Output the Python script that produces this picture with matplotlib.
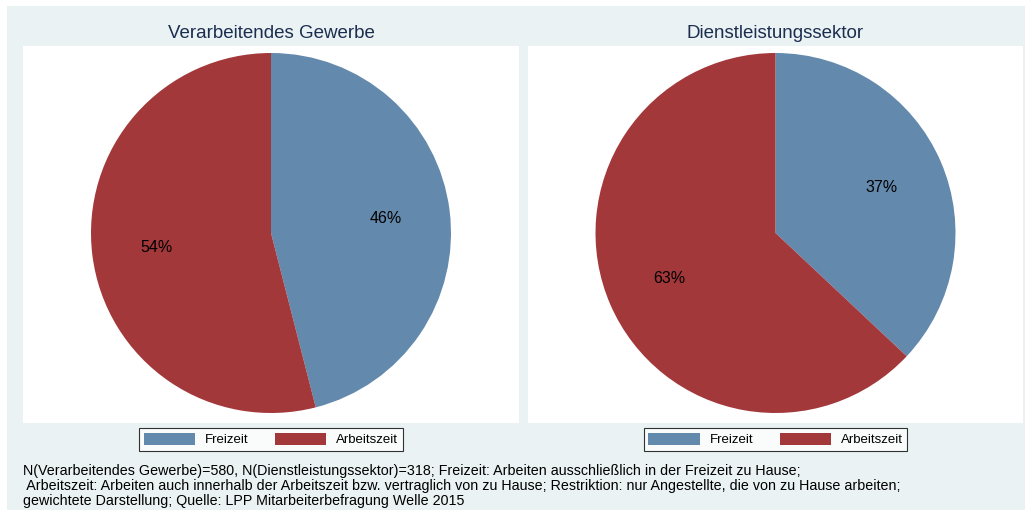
import matplotlib

matplotlib.use("Agg")
import matplotlib.pyplot as plt

plt.rcParams["font.family"] = ["Liberation Sans", "DejaVu Sans"]

# Daten
sektoren = ["Verarbeitendes Gewerbe", "Dienstleistungssektor"]
kategorien = ["Freizeit", "Arbeitszeit"]
anteile = [[46, 54], [37, 63]]
farben = ["#6389AD", "#A3383B"]
fussnote = [
    "N(Verarbeitendes Gewerbe)=580, N(Dienstleistungssektor)=318; Freizeit: Arbeiten ausschließlich in der Freizeit zu Hause;",
    " Arbeitszeit: Arbeiten auch innerhalb der Arbeitszeit bzw. vertraglich von zu Hause; Restriktion: nur Angestellte, die von zu Hause arbeiten;",
    "gewichtete Darstellung; Quelle: LPP Mitarbeiterbefragung Welle 2015",
]

W, H = 1026, 519
fig = plt.figure(figsize=(W / 100, H / 100), dpi=100, facecolor="white")


def px_rect(x0, y0, x1, y1):
    """Pixel (oben-links) -> figure coords [left, bottom, width, height]."""
    return [x0 / W, 1 - y1 / H, (x1 - x0) / W, (y1 - y0) / H]


def leere_achse(rect, farbe):
    a = fig.add_axes(rect)
    a.set_facecolor(farbe)
    a.set_xticks([])
    a.set_yticks([])
    for s in a.spines.values():
        s.set_visible(False)
    return a


# Hintergrund (Stata s2color)
leere_achse(px_rect(7, 6, 1025, 510), "#EAF2F3")

panels = [(23, 519), (528, 1023)]
for i, (x0, x1) in enumerate(panels):
    leere_achse(px_rect(x0, 46, x1, 423), "white")

    cx = (x0 + x1) / 2
    fig.text(cx / W, 1 - 33 / H, sektoren[i], ha="center", va="center",
             fontsize=13.5, color="#1C2E50")

    r = 180
    ax = fig.add_axes(px_rect(cx - r, 233 - r, cx + r, 233 + r))
    ax.patch.set_alpha(0)
    wedges, _, autotexts = ax.pie(
        anteile[i], colors=farben, startangle=90, counterclock=False,
        autopct="%1.0f%%", pctdistance=0.64,
        wedgeprops={"linewidth": 0},
        textprops={"fontsize": 11.5, "color": "black"},
    )
    ax.set_xlim(-1, 1)
    ax.set_ylim(-1, 1)
    ax.axis("off")

    leg = ax.legend(
        wedges, kategorien, ncol=2, loc="center",
        bbox_to_anchor=(cx / W, 1 - 439.5 / H), bbox_transform=fig.transFigure,
        fontsize=9.5, frameon=True, fancybox=False, edgecolor="black",
        handlelength=3.9, handleheight=1.1, handletextpad=0.75,
        columnspacing=2.0, borderpad=0.35, borderaxespad=0,
    )
    leg.get_frame().set_linewidth(0.8)

for j, zeile in enumerate(fussnote):
    fig.text(23 / W, 1 - (471 + 15 * j) / H, zeile, ha="left", va="center",
             fontsize=10.3, color="black")

fig.savefig("out.png", dpi=100, facecolor="white")
plt.close(fig)
